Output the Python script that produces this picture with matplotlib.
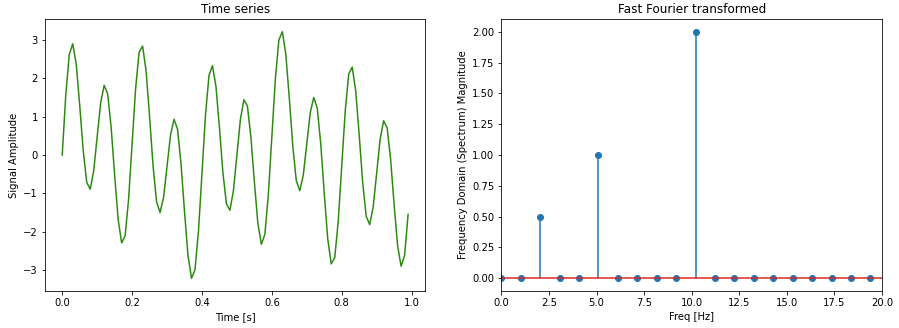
"""
Time series and its spectrum, side by side.
"""

import matplotlib
matplotlib.use("Agg")
import matplotlib.pyplot as plt
import numpy as np

# Signal samples, 0.01 s apart, starting at t = 0
signal = [
    0.0, 1.547, 2.614, 2.895, 2.368, 1.294, 0.118, -0.708, -0.892, -0.414,
    0.476, 1.358, 1.813, 1.592, 0.716, -0.525, -1.674, -2.289, -2.105, -1.142,
    0.294, 1.726, 2.674, 2.835, 2.189, 1.0, -0.287, -1.217, -1.498, -1.108,
    -0.294, 0.524, 0.929, 0.671, -0.228, -1.476, -2.618, -3.210, -2.989, -1.976,
    -0.476, 1.032, 2.068, 2.326, 1.784, 0.706, -0.465, -1.277, -1.439, -0.929,
    0.0, 0.929, 1.439, 1.277, 0.465, -0.706, -1.784, -2.326, -2.068, -1.032,
    0.476, 1.976, 2.989, 3.210, 2.618, 1.476, 0.228, -0.671, -0.929, -0.524,
    0.294, 1.108, 1.498, 1.217, 0.287, -1.0, -2.189, -2.835, -2.674, -1.726,
    -0.294, 1.142, 2.105, 2.289, 1.674, 0.525, -0.716, -1.592, -1.813, -1.358,
    -0.476, 0.414, 0.892, 0.708, -0.118, -1.294, -2.368, -2.895, -2.614, -1.547,
]
SAMPLE_STEP = 0.01  # seconds

# Spectrum bins visible between 0 and 20 Hz
freqs = [
    0.0, 1.02, 2.04, 3.06, 4.08, 5.10, 6.12, 7.14, 8.16, 9.18,
    10.20, 11.22, 12.24, 13.27, 14.29, 15.31, 16.33, 17.35, 18.37, 19.39,
]
magnitude = [
    0.0, 0.0, 0.5, 0.0, 0.0, 1.0, 0.0, 0.0, 0.0, 0.0,
    2.0, 0.0, 0.0, 0.0, 0.0, 0.0, 0.0, 0.0, 0.0, 0.0,
]

t = np.arange(len(signal)) * SAMPLE_STEP

fig, (ax1, ax2) = plt.subplots(1, 2, figsize=(899 / 72, 328 / 72), dpi=72)
fig.subplots_adjust(left=0.05, right=0.981, bottom=0.114, top=0.941, wspace=0.2)

ax1.plot(t, signal, color="#2a8a10", linewidth=1.5)
ax1.set_title("Time series")
ax1.set_xlabel("Time [s]")
ax1.set_ylabel("Signal Amplitude")

markers, stems, baseline = ax2.stem(freqs, magnitude)
ax2.set_xlim(0, 20)
baseline.set_xdata([0, 20])
ax2.set_title("Fast Fourier transformed")
ax2.set_xlabel("Freq [Hz]")
ax2.set_ylabel("Frequency Domain (Spectrum) Magnitude")

fig.savefig("out.png", dpi=72)
plt.close(fig)
